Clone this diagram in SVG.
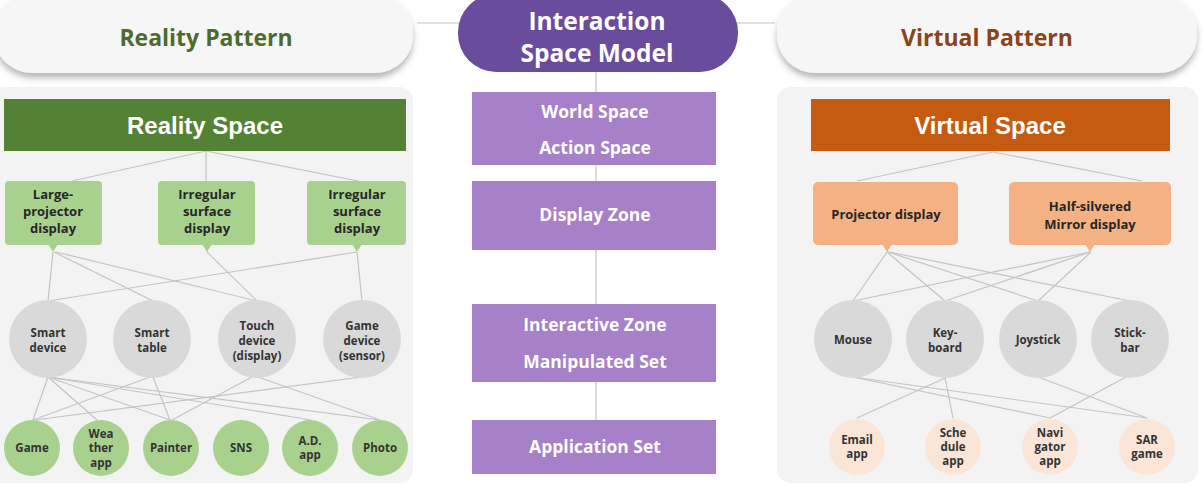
<svg xmlns="http://www.w3.org/2000/svg" width="1203" height="486" viewBox="0 0 1203 486">
<defs>
<filter id="sh" x="-10%" y="-30%" width="120%" height="170%">
<feDropShadow dx="0" dy="5" stdDeviation="3" flood-color="#000" flood-opacity="0.28"/>
</filter>
<style>
.t{font-family:"Open Sans","Liberation Sans",sans-serif;font-weight:700;text-anchor:middle}
.pill{fill:#f6f6f6}
.panel{fill:#f3f3f3}
.c{stroke:#c4c4c4;stroke-width:1.2;fill:none}
.gbox{fill:#a9d18e}
.obox{fill:#f4b183}
.gray{fill:#d9d9d9}
.gc{fill:#a9d18e}
.pc{fill:#fbe5d6}
.pb{fill:#a680c8}
.dk{fill:#262626;font-size:13px}
.sm{fill:#333;font-size:11.5px}
.wh{fill:#fff}
.hd{font-family:"Liberation Sans",sans-serif;font-size:24px}
.mb{font-size:17.5px}
</style>
</defs>
<rect width="1203" height="486" fill="#fff"/>
<rect class="panel" x="-10" y="87" width="423" height="396" rx="14"/>
<rect class="panel" x="777" y="87" width="421" height="396" rx="14"/>
<g id="connectors">
<line class="c" x1="417" y1="23" x2="460" y2="23"/>
<line class="c" x1="736" y1="23" x2="775" y2="23"/>
<line class="c" x1="596" y1="72" x2="596" y2="420"/>
<line class="c" x1="206" y1="151" x2="72" y2="181"/>
<line class="c" x1="206" y1="151" x2="206" y2="181"/>
<line class="c" x1="206" y1="151" x2="358" y2="181"/>
<line class="c" x1="53" y1="252" x2="48" y2="301"/>
<line class="c" x1="54" y1="252" x2="153" y2="301"/>
<line class="c" x1="56" y1="252" x2="257" y2="301"/>
<line class="c" x1="207" y1="252" x2="257" y2="301"/>
<line class="c" x1="357" y1="252" x2="48" y2="301"/>
<line class="c" x1="357" y1="252" x2="362" y2="301"/>
<line class="c" x1="48" y1="377" x2="33" y2="420"/>
<line class="c" x1="48" y1="377" x2="97" y2="420"/>
<line class="c" x1="48" y1="377" x2="170" y2="420"/>
<line class="c" x1="48" y1="377" x2="311" y2="420"/>
<line class="c" x1="48" y1="377" x2="380" y2="420"/>
<line class="c" x1="150" y1="377" x2="33" y2="420"/>
<line class="c" x1="153" y1="377" x2="170" y2="420"/>
<line class="c" x1="252" y1="377" x2="172" y2="420"/>
<line class="c" x1="258" y1="377" x2="380" y2="420"/>
<line class="c" x1="362" y1="377" x2="35" y2="420"/>
<line class="c" x1="993" y1="152" x2="857" y2="181"/>
<line class="c" x1="993" y1="152" x2="1142" y2="181"/>
<line class="c" x1="887" y1="252" x2="853" y2="301"/>
<line class="c" x1="887" y1="252" x2="945" y2="301"/>
<line class="c" x1="888" y1="252" x2="1038" y2="301"/>
<line class="c" x1="889" y1="252" x2="1130" y2="301"/>
<line class="c" x1="1090" y1="252" x2="853" y2="301"/>
<line class="c" x1="1090" y1="252" x2="945" y2="301"/>
<line class="c" x1="1091" y1="252" x2="1038" y2="301"/>
<line class="c" x1="853" y1="377" x2="1050" y2="418"/>
<line class="c" x1="853" y1="377" x2="1147" y2="418"/>
<line class="c" x1="945" y1="378" x2="857" y2="418"/>
<line class="c" x1="945" y1="378" x2="953" y2="418"/>
<line class="c" x1="1038" y1="377" x2="1147" y2="418"/>
<line class="c" x1="1126" y1="377" x2="1050" y2="418"/>
</g>
<g id="reality-pattern"><rect class="pill" x="-6" y="-6" width="419" height="79" rx="38" filter="url(#sh)"/><text class="t" x="206" y="46" font-size="23" fill="#4e6b2e">Reality Pattern</text></g>
<g id="interaction-space-model"><rect x="458" y="-6" width="280" height="78" rx="38" fill="#6a4c9c"/><text class="t wh" font-size="24.5"><tspan x="597" y="30">Interaction</tspan><tspan x="597" y="62">Space Model</tspan></text></g>
<g id="virtual-pattern"><rect class="pill" x="777" y="-6" width="420" height="79" rx="38" filter="url(#sh)"/><text class="t" x="987" y="46" font-size="23" fill="#8a4419">Virtual Pattern</text></g>

<g id="reality-space"><rect x="4" y="99" width="402" height="52" fill="#548235"/><text class="t wh hd" x="205" y="134">Reality Space</text></g>
<g id="large-projector-display"><rect class="gbox" x="5" y="181" width="97" height="64" rx="4"/><polygon class="gbox" points="48,244 58,244 53,252"/><text class="t dk"><tspan x="53" y="199">Large-</tspan><tspan x="53" y="216">projector</tspan><tspan x="53" y="233">display</tspan></text></g>
<g id="irregular-surface-display-1"><rect class="gbox" x="158" y="181" width="97" height="64" rx="4"/><polygon class="gbox" points="202,244 212,244 207,252"/><text class="t dk"><tspan x="207" y="199">Irregular</tspan><tspan x="207" y="216">surface</tspan><tspan x="207" y="233">display</tspan></text></g>
<g id="irregular-surface-display-2"><rect class="gbox" x="307" y="181" width="99" height="64" rx="4"/><polygon class="gbox" points="352,244 362,244 357,252"/><text class="t dk"><tspan x="357" y="199">Irregular</tspan><tspan x="357" y="216">surface</tspan><tspan x="357" y="233">display</tspan></text></g>

<g id="smart-device"><circle class="gray" cx="48" cy="339" r="39"/><text class="t sm"><tspan x="48" y="337">Smart</tspan><tspan x="48" y="352">device</tspan></text></g>
<g id="smart-table"><circle class="gray" cx="152" cy="339" r="39"/><text class="t sm"><tspan x="152" y="337">Smart</tspan><tspan x="152" y="352">table</tspan></text></g>
<g id="touch-device"><circle class="gray" cx="257" cy="339" r="39"/><text class="t sm"><tspan x="257" y="330">Touch</tspan><tspan x="257" y="345">device</tspan><tspan x="257" y="360">(display)</tspan></text></g>
<g id="game-device"><circle class="gray" cx="362" cy="339" r="39"/><text class="t sm"><tspan x="362" y="330">Game</tspan><tspan x="362" y="345">device</tspan><tspan x="362" y="360">(sensor)</tspan></text></g>

<g id="game"><circle class="gc" cx="32" cy="448" r="28"/><text class="t sm" x="32" y="452">Game</text></g>
<g id="weather-app"><circle class="gc" cx="101" cy="448" r="28"/><text class="t sm"><tspan x="101" y="438">Wea</tspan><tspan x="101" y="452">ther</tspan><tspan x="101" y="467">app</tspan></text></g>
<g id="painter"><circle class="gc" cx="171" cy="448" r="28"/><text class="t sm" x="171" y="452">Painter</text></g>
<g id="sns"><circle class="gc" cx="241" cy="448" r="28"/><text class="t sm" x="241" y="452">SNS</text></g>
<g id="ad-app"><circle class="gc" cx="310" cy="448" r="28"/><text class="t sm"><tspan x="310" y="445">A.D.</tspan><tspan x="310" y="459">app</tspan></text></g>
<g id="photo"><circle class="gc" cx="380" cy="448" r="28"/><text class="t sm" x="380" y="452">Photo</text></g>

<g id="world-action-space"><rect class="pb" x="472" y="92" width="244" height="73"/><text class="t wh mb"><tspan x="595" y="118">World Space</tspan><tspan x="595" y="154">Action Space</tspan></text></g>
<g id="display-zone"><rect class="pb" x="472" y="181" width="244" height="69"/><text class="t wh mb" x="595" y="221">Display Zone</text></g>
<g id="interactive-zone"><rect class="pb" x="472" y="304" width="244" height="78"/><text class="t wh mb"><tspan x="595" y="331">Interactive Zone</tspan><tspan x="595" y="368">Manipulated Set</tspan></text></g>
<g id="application-set"><rect class="pb" x="472" y="420" width="244" height="54"/><text class="t wh mb" x="595" y="453">Application Set</text></g>

<g id="virtual-space"><rect x="811" y="99" width="359" height="52" fill="#c55a11"/><text class="t wh hd" x="990" y="134">Virtual Space</text></g>
<g id="projector-display"><rect class="obox" x="813" y="182" width="145" height="63" rx="5"/><polygon class="obox" points="882,244 892,244 887,252"/><text class="t dk" x="886" y="219">Projector display</text></g>
<g id="half-silvered-mirror-display"><rect class="obox" x="1009" y="182" width="162" height="63" rx="5"/><polygon class="obox" points="1085,244 1095,244 1090,252"/><text class="t dk"><tspan x="1090" y="211">Half-silvered</tspan><tspan x="1090" y="229">Mirror display</tspan></text></g>

<g id="mouse"><circle class="gray" cx="853" cy="339" r="39"/><text class="t sm" x="853" y="344">Mouse</text></g>
<g id="keyboard"><circle class="gray" cx="945" cy="339" r="39"/><text class="t sm"><tspan x="945" y="337">Key-</tspan><tspan x="945" y="352">board</tspan></text></g>
<g id="joystick"><circle class="gray" cx="1038" cy="339" r="39"/><text class="t sm" x="1038" y="344">Joystick</text></g>
<g id="stick-bar"><circle class="gray" cx="1130" cy="339" r="39"/><text class="t sm"><tspan x="1130" y="337">Stick-</tspan><tspan x="1130" y="352">bar</tspan></text></g>

<g id="email-app"><circle class="pc" cx="857" cy="447" r="28"/><text class="t sm"><tspan x="857" y="444">Email</tspan><tspan x="857" y="458">app</tspan></text></g>
<g id="schedule-app"><circle class="pc" cx="953" cy="447" r="28"/><text class="t sm"><tspan x="953" y="437">Sche</tspan><tspan x="953" y="451">dule</tspan><tspan x="953" y="465">app</tspan></text></g>
<g id="navigator-app"><circle class="pc" cx="1050" cy="447" r="28"/><text class="t sm"><tspan x="1050" y="437">Navi</tspan><tspan x="1050" y="451">gator</tspan><tspan x="1050" y="465">app</tspan></text></g>
<g id="sar-game"><circle class="pc" cx="1147" cy="447" r="28"/><text class="t sm"><tspan x="1147" y="444">SAR</tspan><tspan x="1147" y="458">game</tspan></text></g>
</svg>
